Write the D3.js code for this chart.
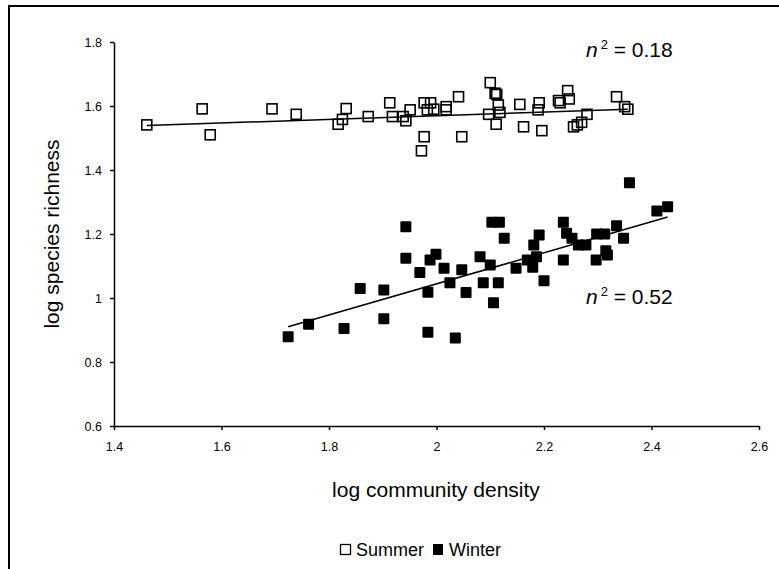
<!DOCTYPE html>
<html lang="en">
<head>
<meta charset="UTF-8" />
<title>Species richness vs community density</title>
<script src="https://d3js.org/d3.v7.min.js"></script>
<style>
  body { margin: 0; background: #fff; }
  text { font-family: "Liberation Sans", Arial, sans-serif; fill: #000; }
</style>
</head>
<body>
<svg width="779" height="569"></svg>
<script>
// values: [log community density, log species richness]
const summer = [
  [1.461, 1.541], [1.564, 1.591], [1.579, 1.510], [1.694, 1.591], [1.739, 1.574],
  [1.817, 1.543], [1.825, 1.558], [1.832, 1.592], [1.873, 1.567], [1.913, 1.610],
  [1.918, 1.567], [1.938, 1.567], [1.943, 1.554], [1.951, 1.588], [1.977, 1.610],
  [1.989, 1.610], [1.983, 1.588], [1.995, 1.590], [2.018, 1.598], [2.018, 1.588],
  [1.977, 1.504], [1.972, 1.460], [2.041, 1.629], [2.047, 1.504], [2.100, 1.673],
  [2.109, 1.640], [2.112, 1.636], [2.115, 1.603], [2.097, 1.574], [2.118, 1.580],
  [2.111, 1.543], [2.155, 1.605], [2.162, 1.535], [2.191, 1.610], [2.189, 1.588],
  [2.196, 1.523], [2.227, 1.617], [2.230, 1.610], [2.244, 1.648], [2.247, 1.622],
  [2.280, 1.574], [2.255, 1.535], [2.262, 1.541], [2.270, 1.549], [2.335, 1.629],
  [2.350, 1.598], [2.356, 1.590]
];
const winter = [
  [1.724, 0.879], [1.762, 0.918], [1.828, 0.905], [1.858, 1.030], [1.902, 1.025],
  [1.902, 0.935], [1.943, 1.223], [1.943, 1.124], [1.969, 1.080], [1.984, 1.018],
  [1.984, 0.893], [1.988, 1.119], [1.999, 1.137], [2.014, 1.093], [2.025, 1.048],
  [2.035, 0.875], [2.047, 1.088], [2.055, 1.017], [2.081, 1.129], [2.087, 1.048],
  [2.100, 1.103], [2.103, 1.237], [2.106, 0.985], [2.115, 1.048], [2.117, 1.237],
  [2.126, 1.187], [2.148, 1.093], [2.169, 1.119], [2.179, 1.096], [2.181, 1.166],
  [2.186, 1.129], [2.191, 1.197], [2.200, 1.054], [2.236, 1.237], [2.236, 1.119],
  [2.242, 1.202], [2.252, 1.187], [2.264, 1.166], [2.278, 1.166], [2.298, 1.200],
  [2.297, 1.119], [2.313, 1.200], [2.315, 1.148], [2.318, 1.134], [2.335, 1.226],
  [2.348, 1.187], [2.359, 1.360], [2.410, 1.272], [2.430, 1.285]
];
// fitted lines, end points as drawn
const summerTrend = [[1.461, 1.539], [2.356, 1.590]];
const winterTrend = [[1.724, 0.910], [2.430, 1.253]];

const xTicks = [1.4, 1.6, 1.8, 2.0, 2.2, 2.4, 2.6];
const yTicks = [0.6, 0.8, 1.0, 1.2, 1.4, 1.6, 1.8];
const xTitle = 'log community density';
const yTitle = 'log species richness';
const seriesNames = ['Summer', 'Winter'];
const r2Labels = ['0.18', '0.52'];

const svg = d3.select('svg');

// outer frame
svg.append('rect')
  .attr('x', 9).attr('y', 6)
  .attr('width', 800).attr('height', 600)
  .attr('fill', 'none').attr('stroke', '#000').attr('stroke-width', 2);

const x = d3.scaleLinear().domain([1.4, 2.6]).range([114, 759]);
const y = d3.scaleLinear().domain([0.6, 1.8]).range([426, 42]);
const fmt = d => String(+d.toFixed(1));

const xAxis = svg.append('g')
  .attr('transform', `translate(0,${y(0.6)})`)
  .call(d3.axisBottom(x).tickValues(xTicks).tickFormat(fmt).tickSize(4).tickSizeOuter(0));
const yAxis = svg.append('g')
  .attr('transform', `translate(${x(1.4)},0)`)
  .call(d3.axisLeft(y).tickValues(yTicks).tickFormat(fmt).tickSize(4).tickSizeOuter(0));

[xAxis, yAxis].forEach(a => {
  a.selectAll('path, line').attr('stroke', '#000').attr('stroke-width', 1.5);
  a.selectAll('text').style('font-size', '12.5px').style('font-family', '"Liberation Sans", Arial, sans-serif');
});
xAxis.selectAll('text').attr('y', 16).attr('dy', '0.71em');
yAxis.selectAll('text').attr('x', -12);

// axis titles
svg.append('text')
  .attr('x', 436).attr('y', 497)
  .attr('text-anchor', 'middle')
  .style('font-size', '21px')
  .text(xTitle);
svg.append('text')
  .attr('transform', `translate(59,${y(1.2)}) rotate(-90)`)
  .attr('text-anchor', 'middle')
  .style('font-size', '21px')
  .text(yTitle);

// trend lines
const line = d3.line().x(d => x(d[0])).y(d => y(d[1]));
[summerTrend, winterTrend].forEach(t => {
  svg.append('path').attr('d', line(t))
    .attr('fill', 'none').attr('stroke', '#000').attr('stroke-width', 1.5);
});

// markers
const s = 10;
svg.append('g').selectAll('rect').data(summer).enter().append('rect')
  .attr('x', d => x(d[0]) - s / 2).attr('y', d => y(d[1]) - s / 2)
  .attr('width', s).attr('height', s)
  .attr('fill', 'none').attr('stroke', '#000').attr('stroke-width', 1.6);
svg.append('g').selectAll('rect').data(winter).enter().append('rect')
  .attr('x', d => x(d[0]) - (s + 1) / 2).attr('y', d => y(d[1]) - (s + 1) / 2)
  .attr('width', s + 1).attr('height', s + 1).attr('rx', 1)
  .attr('fill', '#000');

// r-squared notes
function r2(xp, yp, val) {
  const t = svg.append('text').attr('x', xp).attr('y', yp).style('font-size', '21px');
  t.append('tspan').style('font-style', 'italic').text('n');
  t.append('tspan').attr('dx', 3).attr('dy', -8).style('font-size', '13px').text('2');
  t.append('tspan').attr('dy', 8).text(' = ' + val);
}
r2(586, 57, r2Labels[0]);
r2(586, 304, r2Labels[1]);

// legend
const lg = svg.append('g').attr('transform', 'translate(0,549)');
lg.append('rect').attr('x', 340.5).attr('y', -4.5).attr('width', 10).attr('height', 10)
  .attr('fill', 'none').attr('stroke', '#000').attr('stroke-width', 1.3);
lg.append('text').attr('x', 356).attr('y', 6.5).style('font-size', '18px').text(seriesNames[0]);
lg.append('rect').attr('x', 433).attr('y', -5).attr('width', 10).attr('height', 11).attr('fill', '#000');
lg.append('text').attr('x', 449).attr('y', 6.5).style('font-size', '18px').text(seriesNames[1]);
</script>
</body>
</html>
